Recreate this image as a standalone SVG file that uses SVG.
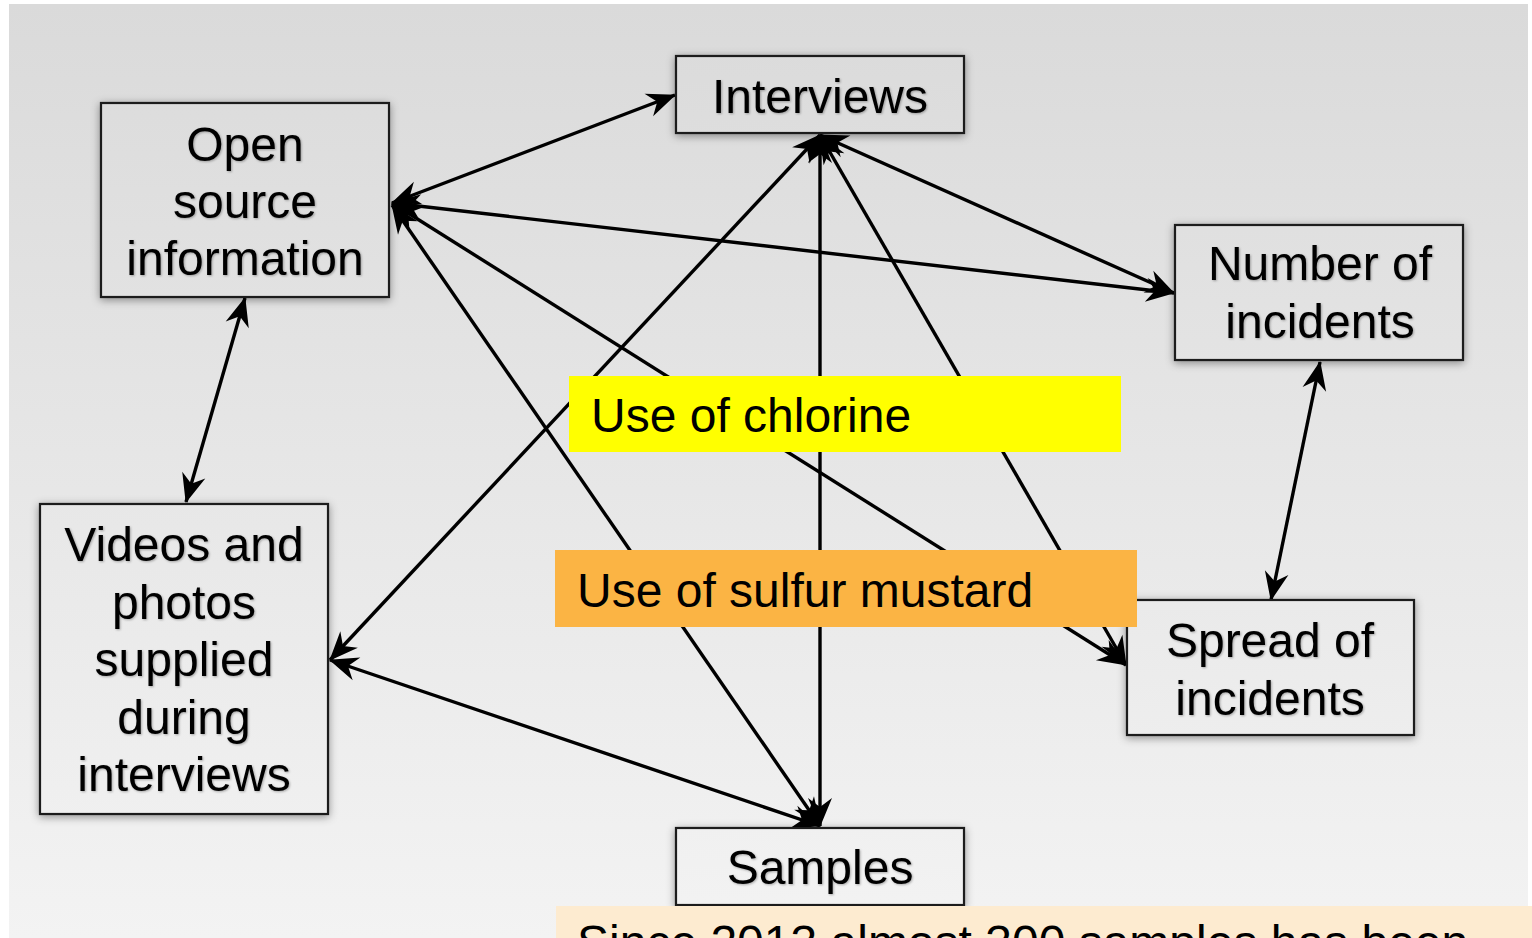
<svg xmlns="http://www.w3.org/2000/svg" width="1532" height="938" viewBox="0 0 1532 938">
  <defs>
    <linearGradient id="bg" gradientUnits="userSpaceOnUse" x1="0" y1="4" x2="0" y2="938">
      <stop offset="0" stop-color="#dadada"/>
      <stop offset="1" stop-color="#f3f3f3"/>
    </linearGradient>
    <filter id="shadow" x="-20%" y="-20%" width="140%" height="140%">
      <feDropShadow dx="0" dy="2" stdDeviation="4" flood-color="#000" flood-opacity="0.4"/>
    </filter>
    <filter id="soft" x="-10%" y="-20%" width="120%" height="140%">
      <feDropShadow dx="1" dy="1" stdDeviation="1" flood-color="#000" flood-opacity="0.3"/>
    </filter>
    <marker id="head" viewBox="-30 -13 32 26" refX="0" refY="0" markerWidth="32" markerHeight="26" markerUnits="userSpaceOnUse" orient="auto-start-reverse">
      <path d="M1,0 L-28,-12 L-19,0 L-28,12 Z" fill="#000"/>
    </marker>
  </defs>
  <style>
    .box { fill: url(#bg); stroke: #1a1a1a; stroke-width: 2.2; filter: url(#shadow); }
    .lbl { font-family: "Liberation Sans", Arial, sans-serif; font-size: 48px; fill: #000; text-anchor: middle; filter: url(#soft); }
    .note { font-family: "Liberation Sans", Arial, sans-serif; font-size: 48px; fill: #000; }
    .link { stroke: #000; stroke-width: 3.4; fill: none; marker-start: url(#head); marker-end: url(#head); }
  </style>

  <rect x="0" y="0" width="1532" height="938" fill="#fff"/>
  <rect x="9" y="4" width="1519" height="934" fill="url(#bg)"/>

  <g id="connectors">
    <line class="link" x1="392" y1="203" x2="675" y2="95"/>
    <line class="link" x1="392" y1="203" x2="1174" y2="293"/>
    <line class="link" x1="392" y1="203" x2="1126" y2="665"/>
    <line class="link" x1="392" y1="205" x2="820" y2="826"/>
    <line class="link" x1="820" y1="135" x2="820" y2="826"/>
    <line class="link" x1="820" y1="135" x2="330" y2="660"/>
    <line class="link" x1="820" y1="135" x2="1174" y2="293"/>
    <line class="link" x1="820" y1="135" x2="1126" y2="665"/>
    <line class="link" x1="1320" y1="362" x2="1271" y2="600"/>
    <line class="link" x1="245" y1="298" x2="186" y2="502"/>
    <line class="link" x1="330" y1="660" x2="820" y2="826"/>
  </g>

  <g id="open-source">
    <rect class="box" x="101" y="103" width="288" height="194"/>
    <text class="lbl" x="245" y="161">Open</text>
    <text class="lbl" x="245" y="218">source</text>
    <text class="lbl" x="245" y="275">information</text>
  </g>

  <g id="interviews">
    <rect class="box" x="676" y="56" width="288" height="77"/>
    <text class="lbl" x="820" y="113">Interviews</text>
  </g>

  <g id="number-of-incidents">
    <rect class="box" x="1175" y="225" width="288" height="135"/>
    <text class="lbl" x="1320" y="280">Number of</text>
    <text class="lbl" x="1320" y="338">incidents</text>
  </g>

  <g id="videos-photos">
    <rect class="box" x="40" y="504" width="288" height="310"/>
    <text class="lbl" x="184" y="561">Videos and</text>
    <text class="lbl" x="184" y="619">photos</text>
    <text class="lbl" x="184" y="676">supplied</text>
    <text class="lbl" x="184" y="734">during</text>
    <text class="lbl" x="184" y="791">interviews</text>
  </g>

  <g id="spread-of-incidents">
    <rect class="box" x="1127" y="600" width="287" height="135"/>
    <text class="lbl" x="1270" y="657">Spread of</text>
    <text class="lbl" x="1270" y="715">incidents</text>
  </g>

  <g id="samples">
    <rect class="box" x="676" y="828" width="288" height="77"/>
    <text class="lbl" x="820" y="884">Samples</text>
  </g>

  <g id="chlorine">
    <rect x="569" y="376" width="552" height="76" fill="#ffff00"/>
    <text class="note" x="591" y="432">Use of chlorine</text>
  </g>

  <g id="sulfur-mustard">
    <rect x="555" y="550" width="582" height="77" fill="#fbb444"/>
    <text class="note" x="577" y="607">Use of sulfur mustard</text>
  </g>

  <g id="samples-note">
    <rect x="556" y="906" width="976" height="40" fill="#fdebd0"/>
    <text class="note" x="577" y="959">Since 2013 almost 300 samples has been</text>
  </g>
</svg>
